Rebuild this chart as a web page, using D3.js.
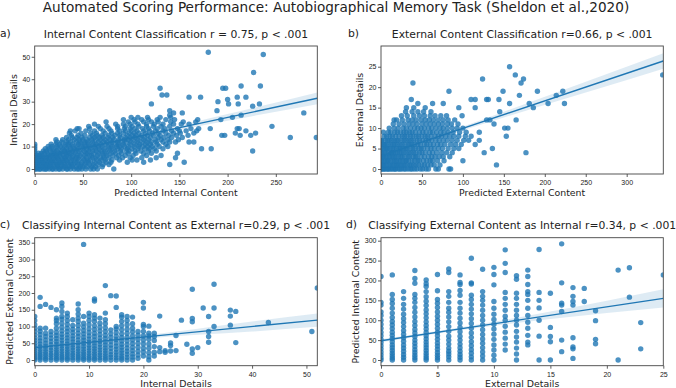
<!DOCTYPE html>
<html>
<head>
<meta charset="utf-8">
<script src="https://cdn.jsdelivr.net/npm/d3@7"></script>
<style>
  body { margin: 0; background: #fff; }
  svg { display: block; font-family: "DejaVu Sans", sans-serif; }
  .tick text { font-size: 7px; fill: #222; }
  .tick line { stroke: #333; stroke-width: 0.8; }
</style>
</head>
<body>
<svg id="fig" width="676" height="388"></svg>
<script>
// ---- data ----
// a) rows: [Internal Details, [Predicted Internal Content ...]]
var aRows = [
  [0, [0, 1, 3, 5, 6, 9, 11, 12, 15, 18, 19, 22, 25, 26, 29, 33, 34, 37, 41, 44, 46, 49, 53, 58, 61, 65, 82]],
  [1, [0, 2, 4, 7, 8, 11, 14, 16, 17, 21, 24, 27, 30, 32, 36, 39, 43, 47, 50, 54, 59, 63, 70]],
  [2, [0, 1, 3, 6, 10, 12, 13, 16, 20, 23, 24, 28, 31, 35, 38, 40, 45, 48, 52, 57, 61, 66, 71, 77, 140]],
  [3, [0, 2, 5, 8, 9, 14, 17, 19, 22, 26, 27, 30, 34, 37, 42, 44, 49, 53, 56, 62, 67, 74, 79, 96, 113, 155]],
  [4, [0, 1, 4, 7, 11, 13, 16, 18, 21, 25, 29, 32, 33, 38, 41, 46, 51, 55, 58, 64, 69, 73, 80, 88, 101, 106, 120]],
  [5, [0, 3, 6, 9, 12, 15, 20, 23, 24, 28, 31, 36, 39, 43, 45, 50, 54, 60, 63, 68, 72, 77, 85, 91, 99, 111, 126, 146]],
  [6, [0, 2, 5, 8, 14, 17, 19, 22, 26, 30, 33, 35, 40, 44, 47, 52, 57, 59, 65, 71, 75, 81, 87, 94, 102, 116, 131]],
  [7, [0, 4, 7, 10, 13, 18, 21, 25, 27, 32, 36, 38, 42, 48, 53, 55, 61, 66, 70, 74, 79, 84, 90, 97, 105, 113, 121, 148]],
  [8, [0, 9, 12, 16, 20, 23, 28, 31, 34, 39, 43, 46, 51, 56, 60, 64, 69, 73, 78, 83, 89, 95, 98, 104, 110, 118, 126, 226]],
  [9, [0, 11, 15, 19, 24, 29, 33, 37, 41, 45, 50, 54, 58, 63, 67, 72, 77, 81, 86, 90, 96, 101, 107, 114, 119, 124, 133, 173, 183]],
  [10, [0, 14, 18, 23, 27, 31, 36, 40, 44, 49, 53, 57, 62, 66, 70, 76, 80, 85, 88, 93, 97, 103, 108, 112, 117, 122, 129, 138]],
  [11, [0, 17, 22, 26, 32, 35, 39, 45, 48, 52, 56, 61, 64, 69, 74, 79, 84, 87, 92, 99, 104, 109, 115, 120, 127, 136]],
  [12, [23, 28, 33, 37, 43, 47, 52, 55, 60, 66, 71, 75, 80, 86, 91, 95, 100, 106, 111, 116, 121, 126, 133, 140, 146, 160, 165]],
  [13, [22, 29, 35, 41, 46, 50, 54, 59, 63, 68, 73, 78, 82, 87, 93, 97, 102, 107, 113, 118, 125, 131, 138, 149]],
  [14, [33, 39, 44, 49, 57, 62, 67, 71, 76, 81, 89, 94, 99, 104, 109, 114, 120, 128, 134, 142, 153, 265, 292]],
  [15, [38, 45, 52, 60, 65, 70, 77, 83, 88, 96, 101, 105, 111, 117, 123, 130, 139, 147, 159, 194, 197, 213, 224]],
  [16, [36, 48, 58, 64, 73, 80, 86, 92, 98, 103, 108, 115, 122, 128, 136, 144, 151, 165, 208, 229]],
  [17, [37, 42, 53, 62, 71, 79, 88, 94, 100, 106, 113, 119, 125, 133, 142, 150, 157, 168, 219]],
  [18, [44, 46, 57, 68, 77, 86, 93, 99, 104, 112, 118, 127, 135, 148, 162, 170, 182, 210, 212]],
  [19, [56, 66, 75, 86, 94, 101, 108, 116, 123, 131, 140, 246]],
  [20, [62, 84, 92, 99, 107, 116, 124, 133, 144, 152, 160]],
  [21, [74, 97, 104, 113, 121, 128, 141, 154, 167]],
  [22, [92, 103, 111, 118, 127, 136, 145, 169, 193]],
  [23, [100, 107, 117, 130, 141, 205]],
  [24, [140, 214]],
  [25, [144, 153, 279]],
  [26, [140, 189]],
  [28, [226]],
  [29, [121, 201, 211, 233]],
  [30, [190]],
  [31, [200]],
  [32, [160, 172, 210, 219]],
  [33, [132, 137]],
  [36, [130, 195, 198]],
  [37, [214, 234]],
  [43, [227]],
  [51, [237]],
  [52, [180]]
];
// b) rows: [External Details, [Predicted External Content ...]]
var bRows = [
  [0, [0, 1, 3, 4, 6, 8, 9, 11, 13, 15, 17, 18, 21, 23, 25, 28, 30, 33, 36, 38, 41, 44, 48, 51, 55, 58, 67, 70, 83, 85]],
  [1, [0, 2, 3, 5, 7, 10, 12, 14, 16, 19, 20, 22, 25, 27, 29, 32, 35, 37, 40, 43, 46, 50, 53, 57, 61, 65, 72, 141]],
  [2, [0, 1, 4, 6, 8, 9, 12, 15, 17, 19, 22, 24, 27, 30, 31, 34, 38, 41, 45, 47, 52, 56, 60, 63, 69, 77, 100]],
  [3, [0, 2, 3, 5, 7, 10, 11, 14, 16, 18, 21, 24, 26, 29, 33, 35, 39, 42, 44, 49, 53, 58, 62, 66, 71, 76, 84]],
  [4, [0, 1, 4, 6, 9, 12, 13, 15, 18, 20, 23, 25, 28, 31, 34, 37, 40, 43, 47, 50, 54, 59, 63, 68, 74, 80, 87, 126, 177]],
  [5, [0, 2, 5, 7, 8, 11, 14, 16, 19, 22, 24, 27, 30, 32, 36, 39, 42, 46, 49, 52, 57, 61, 65, 70, 75, 82, 89, 95, 136]],
  [6, [0, 3, 4, 6, 9, 12, 15, 17, 20, 23, 26, 29, 33, 35, 38, 41, 45, 48, 53, 56, 60, 64, 69, 73, 78, 85, 91, 98, 115]],
  [7, [0, 1, 5, 8, 10, 13, 16, 19, 21, 25, 28, 31, 34, 37, 40, 44, 47, 51, 55, 58, 62, 67, 71, 76, 81, 87, 93, 101, 107, 120]],
  [8, [4, 7, 11, 14, 18, 22, 26, 29, 32, 36, 39, 43, 46, 50, 54, 57, 61, 66, 70, 74, 79, 84, 89, 95, 103, 110, 153]],
  [9, [3, 9, 12, 17, 20, 24, 28, 31, 35, 38, 42, 47, 51, 55, 60, 63, 68, 73, 77, 82, 88, 96, 104, 120]],
  [10, [10, 16, 21, 27, 31, 36, 41, 45, 49, 53, 58, 62, 67, 72, 76, 81, 87, 93, 100, 151, 155]],
  [11, [15, 22, 28, 34, 39, 44, 50, 55, 60, 65, 70, 75, 81, 86, 94, 138]],
  [12, [16, 19, 26, 33, 38, 43, 49, 54, 59, 64, 70, 76, 82, 90, 129, 133, 165]],
  [13, [25, 32, 40, 47, 53, 60, 66, 73, 80, 99]],
  [14, [30, 38, 45, 52, 61, 145]],
  [15, [31, 40, 54, 95, 115, 186]],
  [16, [45, 63, 76, 157, 181, 204, 224]],
  [17, [37, 110, 115, 129, 131, 144]],
  [18, [169, 214]],
  [19, [83, 149, 191, 222]],
  [21, [39, 171]],
  [22, [124, 174]],
  [23, [164, 344]],
  [25, [157]]
];
// c) columns: [Internal Details, [Predicted External Content ...]]
var cCols = [
  [0, [0, 5, 10, 16, 22, 28, 35, 42, 50, 58, 66, 75, 85, 95, 105, 118, 130]],
  [1, [0, 6, 12, 18, 25, 32, 40, 48, 57, 66, 76, 86, 95, 160, 187]],
  [2, [0, 5, 11, 18, 25, 33, 41, 50, 60, 70, 80, 95, 166]],
  [3, [0, 7, 14, 21, 29, 37, 46, 55, 65, 75, 85, 157]],
  [4, [0, 5, 11, 17, 24, 31, 39, 47, 55, 64, 73, 83, 95, 108, 118, 125, 150]],
  [5, [0, 6, 12, 19, 26, 34, 42, 50, 59, 68, 77, 87, 98, 110, 122, 130, 145, 160, 170]],
  [6, [0, 5, 11, 18, 25, 32, 40, 48, 57, 66, 75, 85, 95, 106, 118, 130, 140]],
  [7, [0, 7, 14, 21, 29, 37, 45, 54, 63, 72, 82, 92, 103, 120]],
  [8, [0, 6, 12, 19, 26, 34, 42, 51, 60, 70, 80, 91, 103, 115, 125, 137, 150, 167]],
  [9, [0, 5, 11, 18, 25, 33, 41, 50, 59, 68, 78, 88, 99, 110, 130, 345]],
  [10, [0, 6, 13, 20, 28, 36, 44, 53, 62, 72, 82, 93, 105, 118, 130, 140]],
  [11, [0, 5, 12, 19, 26, 34, 42, 51, 60, 70, 80, 91, 102, 115, 125, 135, 176, 182]],
  [12, [0, 7, 14, 22, 30, 38, 47, 56, 66, 76, 87, 98, 110, 125]],
  [13, [0, 6, 13, 20, 28, 36, 45, 54, 64, 74, 85, 96, 108, 120, 140, 222]],
  [14, [0, 8, 16, 25, 35, 45, 56, 67, 78, 90, 192]],
  [15, [0, 7, 15, 23, 32, 41, 51, 61, 71, 82, 93, 100, 157, 191]],
  [16, [0, 6, 13, 21, 29, 38, 47, 57, 67, 78, 90, 102, 115, 128, 135]],
  [17, [0, 8, 17, 26, 36, 46, 57, 68, 80, 92, 105, 118, 130]],
  [18, [0, 9, 18, 28, 38, 49, 60, 72, 84, 95, 108, 128]],
  [19, [5, 15, 26, 38, 50, 62, 74, 85]],
  [20, [12, 24, 35, 48, 60, 72, 85, 100, 106, 155, 172]],
  [21, [0, 10, 22, 35, 48, 62, 72, 80, 101]],
  [22, [12, 23, 40, 58, 70, 80]],
  [23, [25, 37, 131]],
  [24, [23, 28]],
  [25, [27, 43, 51]],
  [26, [28, 73]],
  [27, [119]],
  [28, [47]],
  [29, [20, 33, 114, 124, 211]],
  [30, [37]],
  [31, [155]],
  [32, [53, 70, 85, 130]],
  [33, [100, 155, 226]],
  [36, [104, 131, 149]],
  [37, [52, 145]],
  [43, [112]],
  [51, [85]],
  [52, [215]]
];
// d) columns: [External Details, [Predicted Internal Content ...]]
var dCols = [
  [0, [0, 6, 13, 20, 28, 36, 44, 52, 61, 70, 80, 90, 100, 112, 121, 138, 145, 210]],
  [1, [0, 5, 11, 17, 24, 31, 38, 46, 54, 62, 70, 79, 88, 97, 107, 118, 130, 142, 152, 165, 214]],
  [2, [0, 7, 14, 22, 30, 38, 47, 56, 65, 74, 84, 94, 104, 115, 128, 140, 155, 172]],
  [3, [0, 6, 12, 19, 26, 34, 42, 50, 59, 68, 77, 87, 97, 108, 120, 132, 145, 155, 165, 193, 205, 225]],
  [4, [0, 5, 11, 17, 24, 31, 38, 45, 53, 61, 69, 78, 87, 96, 106, 116, 126, 137, 148, 159, 172, 185, 192, 201]],
  [5, [0, 6, 12, 19, 27, 35, 43, 52, 61, 70, 80, 90, 100, 110, 121, 132, 143, 152, 174, 215]],
  [6, [0, 8, 15, 22, 30, 40, 50, 60, 72, 84, 96, 108, 120, 130, 145, 160, 172, 220, 229]],
  [7, [0, 7, 14, 22, 31, 40, 50, 60, 71, 82, 93, 105, 118, 130, 145, 163, 175, 190, 195, 214]],
  [8, [0, 8, 17, 26, 36, 46, 57, 68, 80, 92, 104, 116, 128, 140, 152, 163, 191, 194, 256]],
  [9, [0, 10, 20, 31, 42, 53, 64, 76, 88, 100, 112, 125, 138, 150, 160, 172, 228]],
  [10, [0, 12, 25, 38, 52, 65, 78, 90, 102, 115, 130, 147, 189, 215, 233]],
  [11, [25, 40, 55, 70, 85, 100, 110, 125, 140, 155, 170, 220, 243, 277]],
  [12, [0, 15, 30, 45, 58, 72, 88, 100, 112, 125, 140, 155, 168, 203, 212]],
  [13, [38, 45, 62, 80, 95, 112, 130, 150, 165, 172, 190, 210, 226]],
  [14, [0, 60, 100, 131, 150, 170, 278]],
  [15, [0, 46, 59, 82, 168]],
  [16, [21, 50, 122, 138, 143, 194, 292]],
  [17, [4, 28, 33, 56, 138, 147, 160, 182]],
  [18, [147, 180]],
  [19, [41, 52, 99, 124]],
  [21, [0, 226]],
  [22, [158, 232]],
  [23, [28, 94]],
  [25, [214]]
];

// regression fits [x, y] and confidence bands [x, lower, upper]
var fitA = [[0, 4.7], [293, 31.5]];
var bandA = [[0, 4.0, 5.4], [70, 10.6, 11.6], [150, 17.4, 19.4], [200, 21.5, 24.5], [293, 28.9, 34.1]];
var fitB = [[0, 3.2], [344.7, 26.4]];
var bandB = [[0, 2.8, 3.6], [40, 5.6, 6.2], [150, 12.6, 14.0], [250, 18.7, 21.3], [344.7, 24.5, 28.3]];
var fitC = [[0, 36.8], [52, 119]];
var bandC = [[0, 33, 41], [8, 46.5, 52.3], [20, 63.5, 73.3], [30, 75, 93.4], [40, 85, 115], [52, 99, 139]];
var fitD = [[0, 48.5], [25, 155]];
var bandD = [[0, 44.5, 52.5], [4, 62.5, 68.5], [10, 86, 96.2], [15, 103, 121.8], [20, 118, 149], [25, 132, 178]];

// tick values
var aXTicks = [0, 50, 100, 150, 200, 250], aYTicks = [0, 10, 20, 30, 40, 50];
var bXTicks = [0, 50, 100, 150, 200, 250, 300], bYTicks = [0, 5, 10, 15, 20, 25];
var cXTicks = [0, 10, 20, 30, 40, 50], cYTicks = [0, 50, 100, 150, 200, 250, 300, 350];
var dXTicks = [0, 5, 10, 15, 20, 25], dYTicks = [0, 50, 100, 150, 200, 250, 300];

function fromRows(rows) {   // y-value rows -> [x, y]
  var out = [];
  rows.forEach(function (r) { r[1].forEach(function (v) { out.push([v, r[0]]); }); });
  return out;
}
function fromCols(cols) {   // x-value columns -> [x, y]
  var out = [];
  cols.forEach(function (c) { c[1].forEach(function (v) { out.push([c[0], v]); }); });
  return out;
}

var BLUE = '#1f77b4';
var svg = d3.select('#fig');

svg.append('text')
  .attr('x', 336).attr('y', 12)
  .attr('text-anchor', 'middle')
  .style('font-size', '13.6px').style('fill', '#222')
  .text('Automated Scoring Performance: Autobiographical Memory Task (Sheldon et al.,2020)');

var panels = [
  { tag: 'a)', title: 'Internal Content Classification r = 0.75, p < .001',
    xlab: 'Predicted Internal Content', ylab: 'Internal Details',
    pts: fromRows(aRows), fit: fitA, band: bandA, xt: aXTicks, yt: aYTicks,
    xd: [0, 293], yd: [-2.23, 54.8],
    box: [34.7, 317.3, 46, 174], tagX: 0, ylabX: 17 },
  { tag: 'b)', title: 'External Content Classification r=0.66, p < .001',
    xlab: 'Predicted External Content', ylab: 'External Details',
    pts: fromRows(bRows), fit: fitB, band: bandB, xt: bXTicks, yt: bYTicks,
    xd: [0, 344.7], yd: [-1.22, 30.06],
    box: [381, 663.3, 46, 174], tagX: 348, ylabX: 363 },
  { tag: 'c)', title: 'Classifying Internal Content as External r=0.29, p < .001',
    xlab: 'Internal Details', ylab: 'Predicted External Content',
    pts: fromCols(cCols), fit: fitC, band: bandC, xt: cXTicks, yt: cYTicks,
    xd: [0, 52], yd: [-17, 365],
    box: [34.7, 317.3, 237.7, 365.7], tagX: 0, ylabX: 13 },
  { tag: 'd)', title: 'Classifying External Content as Internal r=0.34, p < .001',
    xlab: 'External Details', ylab: 'Predicted Internal Content',
    pts: fromCols(dCols), fit: fitD, band: bandD, xt: dXTicks, yt: dYTicks,
    xd: [0, 25], yd: [-14.3, 307.5],
    box: [381, 663.3, 237.7, 365.7], tagX: 346, ylabX: 359 }
];

panels.forEach(function (p, i) {
  var b = p.box;
  var x = d3.scaleLinear().domain(p.xd).range([b[0], b[1]]);
  var y = d3.scaleLinear().domain(p.yd).range([b[3], b[2]]);
  var g = svg.append('g');

  var clipId = 'clip' + i;
  svg.append('clipPath').attr('id', clipId).append('rect')
    .attr('x', b[0]).attr('y', b[2]).attr('width', b[1] - b[0]).attr('height', b[3] - b[2]);

  var gPlot = g.append('g').attr('clip-path', 'url(#' + clipId + ')');
  gPlot.selectAll('circle').data(p.pts).enter().append('circle')
    .attr('cx', function (d) { return x(d[0]); })
    .attr('cy', function (d) { return y(d[1]); })
    .attr('r', 2.7)
    .attr('fill', BLUE).attr('fill-opacity', 0.8);

  var area = d3.area().curve(d3.curveMonotoneX)
    .x(function (d) { return x(d[0]); })
    .y0(function (d) { return y(d[1]); })
    .y1(function (d) { return y(d[2]); });
  gPlot.append('path').datum(p.band).attr('d', area)
    .attr('fill', BLUE).attr('fill-opacity', 0.15);

  var line = d3.line().x(function (d) { return x(d[0]); }).y(function (d) { return y(d[1]); });
  gPlot.append('path').datum(p.fit).attr('d', line)
    .attr('fill', 'none').attr('stroke', BLUE).attr('stroke-width', 1.4);

  // axes
  g.append('g').attr('transform', 'translate(0,' + b[3] + ')')
    .call(d3.axisBottom(x).tickValues(p.xt).tickSize(3).tickPadding(3))
    .call(function (s) { s.select('.domain').remove(); });
  g.append('g').attr('transform', 'translate(' + b[0] + ',0)')
    .call(d3.axisLeft(y).tickValues(p.yt).tickSize(3).tickPadding(1.5))
    .call(function (s) { s.select('.domain').remove(); });

  g.append('rect')
    .attr('x', b[0]).attr('y', b[2]).attr('width', b[1] - b[0]).attr('height', b[3] - b[2])
    .attr('fill', 'none').attr('stroke', '#444').attr('stroke-width', 0.9);

  // titles and labels
  var cx = (b[0] + b[1]) / 2;
  g.append('text').attr('x', cx).attr('y', b[2] - 8.3)
    .attr('text-anchor', 'middle').style('font-size', '10.8px').style('fill', '#222')
    .text(p.title);
  g.append('text').attr('x', p.tagX).attr('y', b[2] - 9.5)
    .style('font-size', '10.8px').style('fill', '#222')
    .text(p.tag);
  g.append('text').attr('x', cx).attr('y', b[3] + 21.5)
    .attr('text-anchor', 'middle').style('font-size', '9.4px').style('fill', '#222')
    .text(p.xlab);
  g.append('text')
    .attr('transform', 'translate(' + p.ylabX + ',' + ((b[2] + b[3]) / 2) + ') rotate(-90)')
    .attr('text-anchor', 'middle').style('font-size', '9.4px').style('fill', '#222')
    .text(p.ylab);
});
</script>
</body>
</html>
